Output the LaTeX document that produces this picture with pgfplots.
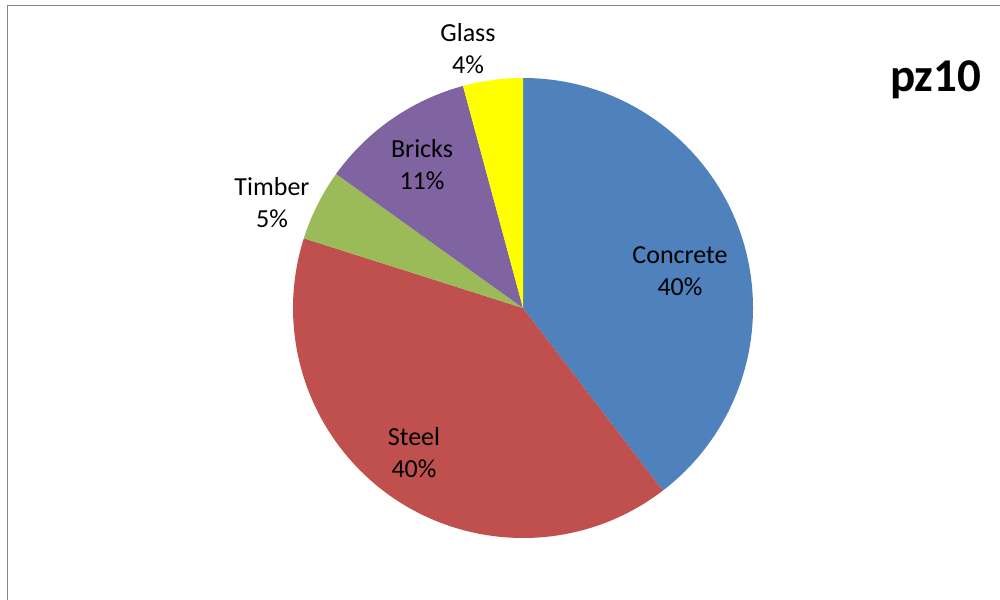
\documentclass[border=0pt]{standalone}
\usepackage{pgfplots}
\usepackage{pgfplotstable}
\pgfplotsset{compat=1.18}
\usepackage{fontspec}
\setmainfont{Carlito}
\definecolor{cConcrete}{HTML}{4F81BD}
\definecolor{cSteel}{HTML}{C0504D}
\definecolor{cTimber}{HTML}{9BBB59}
\definecolor{cBricks}{HTML}{8064A2}
\definecolor{cGlass}{HTML}{FFFF00}
\definecolor{frame}{HTML}{868686}

\pgfplotstableread{
name value
Concrete 39.6
Steel 40.3
Timber 5.0
Bricks 10.9
Glass 4.2
}\piedata

\begin{document}
\begin{tikzpicture}[x=1pt,y=1pt]
% cumulative angles (start at 12 o'clock, clockwise)
\pgfplotstablegetelem{0}{value}\of\piedata \pgfmathsetmacro\aA{90-3.6*\pgfplotsretval}
\pgfplotstablegetelem{1}{value}\of\piedata \pgfmathsetmacro\aB{\aA-3.6*\pgfplotsretval}
\pgfplotstablegetelem{2}{value}\of\piedata \pgfmathsetmacro\aC{\aB-3.6*\pgfplotsretval}
\pgfplotstablegetelem{3}{value}\of\piedata \pgfmathsetmacro\aD{\aC-3.6*\pgfplotsretval}
\pgfplotstablegetelem{4}{value}\of\piedata \pgfmathsetmacro\aE{\aD-3.6*\pgfplotsretval}
\begin{axis}[hide axis, scale only axis, x=1pt, y=1pt,
  xmin=0, xmax=1000, ymin=0, ymax=599,
  anchor=origin, at={(0,0)}, clip=false]
\fill[cConcrete] (axis cs:523,291) -- ++(90:230pt) arc[start angle=90, end angle=\aA, radius=230pt] -- cycle;
\fill[cSteel] (axis cs:523,291) -- ++(\aA:230pt) arc[start angle=\aA, end angle=\aB, radius=230pt] -- cycle;
\fill[cTimber] (axis cs:523,291) -- ++(\aB:230pt) arc[start angle=\aB, end angle=\aC, radius=230pt] -- cycle;
\fill[cBricks] (axis cs:523,291) -- ++(\aC:230pt) arc[start angle=\aC, end angle=\aD, radius=230pt] -- cycle;
\fill[cGlass] (axis cs:523,291) -- ++(\aD:230pt) arc[start angle=\aD, end angle=\aE, radius=230pt] -- cycle;
\tikzset{lbl/.style={align=center, inner sep=0pt, font=\fontsize{26}{32}\selectfont}}
\node[lbl] at (axis cs:680,328) {Concrete\\40\%};
\node[lbl] at (axis cs:414,146) {Steel\\40\%};
\node[lbl] at (axis cs:272,396) {Timber\\5\%};
\node[lbl] at (axis cs:422,434) {Bricks\\11\%};
\node[lbl] at (axis cs:468,550) {Glass\\4\%};
\node[anchor=base, inner sep=0pt, font=\fontsize{47}{52}\selectfont\bfseries] at (axis cs:935.5,507) {pz10};
\draw[frame, line width=1.8pt] (axis cs:7.5,-20) -- (axis cs:7.5,593.5) -- (axis cs:1020,593.5);
\end{axis}
\pgfresetboundingbox
\path[use as bounding box] (0,0) rectangle (1000,599);
\end{tikzpicture}
\end{document}
